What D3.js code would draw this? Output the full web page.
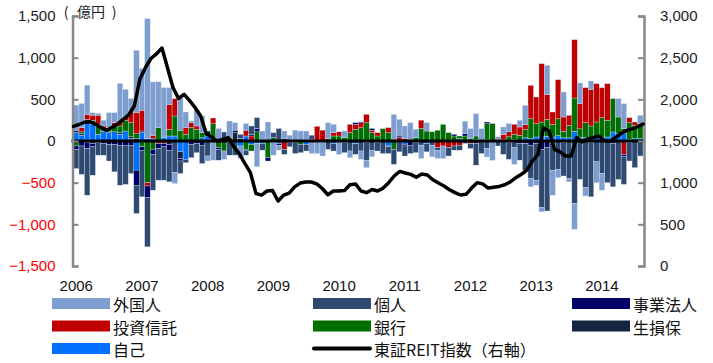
<!DOCTYPE html>
<html><head><meta charset="utf-8">
<script src="https://cdn.jsdelivr.net/npm/d3@7"></script>
<style>body{margin:0;background:#fff}svg{display:block}</style>
</head><body><svg id="c" width="713" height="363"></svg>
<script>
// ---- categories / tick labels ----
const years = ["2006","2007","2008","2009","2010","2011","2012","2013","2014"];
const monthCount = 104; // 2006/01 - 2014/08
const leftTicks = [-1500,-1000,-500,0,500,1000,1500];
const rightTicks = [0,500,1000,1500,2000,2500,3000];

// ---- series values (億円), monthly ----
const foreign = [ // 外国人
 300,290,350,30,20,70,180,120,440,330,140,750,
 500,1440,640,550,600,200,-130,380,188,20,190,200,
 -60,-230,150,-100,200,90,-150,80,0,-280,100,228,
 -150,-60,90,70,130,120,100,-150,-130,-160,188,100,
 -160,80,-80,0,-100,-90,-80,0,0,0,320,200,
 150,220,100,-160,100,-140,-100,-150,0,0,0,148,
 118,268,148,-100,-232,30,90,100,-200,80,230,-100,
 -60,-50,350,-300,-100,300,-40,-310,250,-100,100,-250,
 -200,0,0,220,300,0,0,100];
const individual = [ // 個人
 -230,-340,-560,-340,-150,-140,-200,-330,-480,-470,-340,-340,
 -560,-590,-430,-380,-400,-380,-380,-150,-40,-160,-110,-220,
 -180,0,-130,108,-150,-170,50,-60,100,130,-80,0,
 60,150,-60,-50,-130,-100,-80,50,0,-20,-100,-90,
 0,-120,-120,-130,-120,-210,-110,-100,-150,-80,-180,-130,
 -120,-100,-120,-50,-100,-50,-30,0,-100,-50,-60,-30,
 -60,-260,-150,-92,0,-60,-160,-200,-80,-200,-320,-400,
 -440,-700,-760,-330,-340,-400,-450,-750,-460,-560,-650,-250,
 -390,-500,-520,-460,-330,-220,-320,-180];
const corporate = [ // 事業法人
 -40,-60,-70,-40,-20,-30,-40,-40,-50,-50,-50,-180,
 -40,-140,-60,-60,-40,-70,0,-30,0,-40,-30,-50,
 0,0,-20,0,-20,30,0,-10,20,40,0,-40,
 0,-20,30,0,0,0,20,20,0,0,0,0,
 0,0,0,20,10,0,20,0,0,-10,0,20,
 -20,-50,0,0,0,0,0,0,0,20,0,30,
 0,-30,0,20,0,0,0,-20,0,-30,-30,-50,
 -30,-100,-80,-20,0,-20,0,0,0,0,-20,0,
 0,0,-30,0,-30,-20,0,0];
const invTrust = [ // 投資信託
 0,50,60,60,110,40,20,30,70,40,150,250,
 250,-40,40,-30,-30,300,208,0,80,60,40,0,
 0,70,0,0,0,0,0,70,60,0,0,0,
 0,0,-100,0,0,0,0,0,176,130,0,40,
 50,0,100,60,60,100,30,40,0,60,0,40,
 30,0,0,100,0,0,-80,-60,-80,-60,-50,0,
 -30,0,0,0,0,0,60,60,120,100,60,400,
 320,700,300,150,470,170,120,700,300,420,440,460,
 360,440,0,0,-160,60,40,0];
const banks = [ // 銀行
 -60,20,40,50,120,20,30,80,80,130,170,60,
 -70,-500,-100,160,0,80,240,130,80,160,140,60,
 0,160,-80,-120,40,0,0,-100,-80,110,0,-200,
 40,0,0,0,0,-40,0,0,0,0,30,60,
 60,40,100,140,160,220,100,60,148,100,-100,0,
 0,0,40,150,120,110,130,200,100,60,30,60,
 30,40,0,190,200,20,0,40,60,60,100,240,
 160,168,200,150,200,80,150,400,100,180,140,180,
 240,200,400,200,60,200,160,180];
const insurers = [ // 生損保
 30,20,-20,-30,0,10,10,0,20,0,20,28,
 20,0,0,0,0,-40,0,-80,0,0,0,0,
 60,0,0,0,0,100,30,0,0,0,20,0,
 0,0,0,0,0,0,0,0,0,0,0,0,
 0,0,0,0,0,0,0,0,0,0,0,0,
 0,0,0,0,0,0,0,0,0,0,0,0,
 0,0,0,0,0,0,0,0,0,0,0,0,
 0,0,0,0,0,0,0,0,0,0,0,0,
 0,0,0,0,0,0,0,0];
const dealers = [ // 自己
 100,70,220,200,80,110,100,110,80,120,30,-350,
 100,28,28,0,40,60,60,-130,-220,0,0,40,
 60,46,0,0,0,0,-60,60,-40,-30,-30,0,
 -20,-30,0,-20,-20,0,-40,0,-20,0,0,-30,
 0,-20,0,-30,0,-20,0,-20,0,-60,0,0,
 -40,0,-20,0,-30,0,0,0,0,0,30,0,
 0,20,0,18,10,0,18,10,20,8,38,28,
 48,60,58,48,66,38,38,116,46,40,40,48,
 40,48,108,88,88,20,28,28];
const reit = [ // 東証REIT指数 (右軸)
 1676,1698,1725,1730,1700,1660,1628,1665,1705,1760,1815,1920,
 2240,2380,2490,2545,2616,2380,2140,2010,2060,1985,1900,1800,
 1590,1545,1500,1520,1540,1430,1345,1230,1120,870,850,900,
 905,780,850,875,950,995,1008,1008,985,930,855,900,
 900,905,975,985,900,880,918,900,935,1000,1080,1135,
 1116,1100,1065,1104,1092,1035,996,960,915,880,852,860,
 935,1000,985,935,945,955,975,1010,1060,1100,1150,1260,
 1340,1655,1620,1400,1370,1320,1320,1540,1490,1524,1540,1560,
 1505,1495,1540,1590,1625,1645,1670,1704];

const seriesKeys = ["prop","ins","bank","itr","corp","ind","fgn"]; // stacking order from zero
const seriesColor = {fgn:"#7D9ECF", ind:"#2E4A70", corp:"#000066", itr:"#C00000",
                     bank:"#006E00", ins:"#16253F", prop:"#0070FF"};
const legendItems = [
  {key:"fgn", label:"外国人", col:0, row:0},
  {key:"ind", label:"個人", col:1, row:0},
  {key:"corp", label:"事業法人", col:2, row:0},
  {key:"itr", label:"投資信託", col:0, row:1},
  {key:"bank", label:"銀行", col:1, row:1},
  {key:"ins", label:"生損保", col:2, row:1},
  {key:"prop", label:"自己", col:0, row:2},
  {key:"reit", label:"東証REIT指数（右軸）", col:1, row:2}
];

const rows = d3.range(monthCount).map(i => ({
  i, fgn: foreign[i], ind: individual[i], corp: corporate[i], itr: invTrust[i],
  bank: banks[i], ins: insurers[i], prop: dealers[i]
}));

const svg = d3.select("#c");
const L = 73.5, R = 643, T = 16, B = 266;
const x = d3.scaleBand().domain(d3.range(monthCount)).range([L, R]).padding(0);
const xl = d3.scalePoint().domain(d3.range(monthCount)).range([L, R]);
const y = d3.scaleLinear().domain([-1500, 1500]).range([B, T]);
const yR = d3.scaleLinear().domain([0, 3000]).range([B, T]);

const stacked = d3.stack().keys(seriesKeys).offset(d3.stackOffsetDiverging)(rows);

const numFont = "'Liberation Sans', Arial, sans-serif";
const jpFont = "'Noto Sans CJK JP', 'Noto Sans', sans-serif";

// bars
svg.append("g").selectAll("g").data(stacked).join("g")
  .attr("fill", d => seriesColor[d.key])
  .selectAll("rect").data(d => d).join("rect")
  .attr("x", d => x(d.data.i))
  .attr("width", x.bandwidth())
  .attr("y", d => y(Math.max(d[0], d[1])))
  .attr("height", d => Math.abs(y(d[0]) - y(d[1])))
  .attr("stroke", "#d8e2f0").attr("stroke-width", 0.35);

// zero line
svg.append("line").attr("x1", L - 2).attr("x2", R + 1)
  .attr("y1", y(0)).attr("y2", y(0))
  .attr("stroke", "#000").attr("stroke-width", 3);

// left axis
const gL = svg.append("g").attr("transform", `translate(${L - 1},0)`)
  .call(d3.axisLeft(y).tickValues(leftTicks).tickFormat(d3.format(",")).tickSize(-6).tickPadding(17));
gL.select(".domain").attr("stroke", "#888").attr("stroke-width", 2.5);
gL.selectAll(".tick line").attr("stroke", "#888").attr("stroke-width", 2);
gL.selectAll(".tick text").attr("font-family", numFont).attr("font-size", 15)
  .attr("fill", d => d < 0 ? "#FF0000" : "#222");

// right axis
const gR = svg.append("g").attr("transform", `translate(${R + 1},0)`)
  .call(d3.axisRight(yR).tickValues(rightTicks).tickFormat(d3.format(",")).tickSize(-6).tickPadding(16));
gR.select(".domain").attr("stroke", "#888").attr("stroke-width", 2.5);
gR.selectAll(".tick line").attr("stroke", "#888").attr("stroke-width", 2);
gR.selectAll(".tick text").attr("font-family", numFont).attr("font-size", 15).attr("fill", "#222");

// bottom labels
const yearTicks = years.map((yr, k) => k * 12);
const gB = svg.append("g").attr("transform", `translate(0,${B})`)
  .call(d3.axisBottom(x).tickValues(yearTicks).tickFormat((d, k) => years[k]).tickSize(0).tickPadding(14));
gB.select(".domain").remove();
gB.selectAll(".tick text").attr("font-family", numFont).attr("font-size", 15).attr("fill", "#111");

// unit label （億円）
const unit = svg.append("g").attr("font-family", jpFont).attr("font-size", 14).attr("fill", "#222");
unit.append("text").attr("x", 66).attr("y", 16.5).attr("text-anchor", "middle").text("(");
unit.append("text").attr("x", 77).attr("y", 16.5).text("億円");
unit.append("text").attr("x", 114).attr("y", 16.5).attr("text-anchor", "middle").text(")");

// REIT line
svg.append("path").datum(reit)
  .attr("fill", "none").attr("stroke", "#000").attr("stroke-width", 3.5)
  .attr("stroke-linejoin", "round").attr("stroke-linecap", "round")
  .attr("d", d3.line().x((d, i) => xl(i)).y(d => yR(d)));

// legend
const colX = [52, 313, 572], rowY = [303.5, 326, 348.5];
const lg = svg.append("g");
legendItems.forEach(it => {
  const lx = colX[it.col], ly = rowY[it.row];
  if (it.key === "reit") {
    lg.append("line").attr("x1", lx + 1).attr("x2", lx + 57).attr("y1", ly).attr("y2", ly)
      .attr("stroke", "#000").attr("stroke-width", 4).attr("stroke-linecap", "round");
  } else {
    lg.append("rect").attr("x", lx).attr("y", ly - 5.5).attr("width", 58).attr("height", 11)
      .attr("fill", seriesColor[it.key]);
  }
  lg.append("text").attr("x", lx + 61).attr("y", ly).attr("dy", "0.48em")
    .attr("font-family", jpFont).attr("font-size", 16).attr("fill", "#111").text(it.label);
});
</script></body></html>
